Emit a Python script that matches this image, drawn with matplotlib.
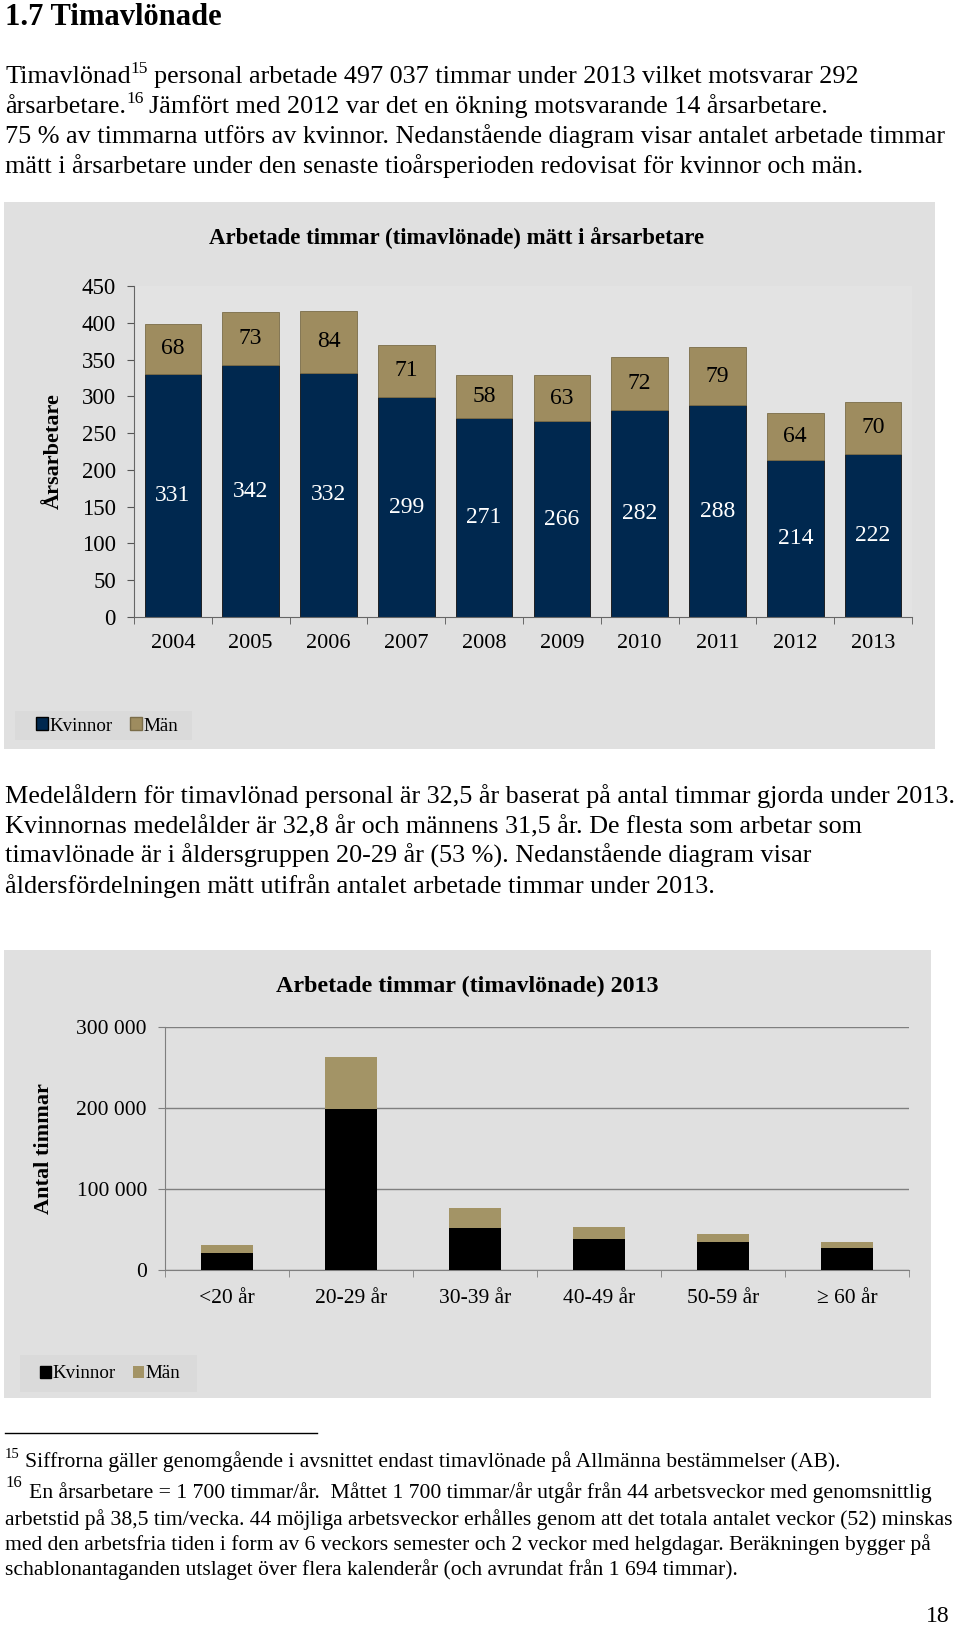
import matplotlib
matplotlib.use("Agg")
import matplotlib.pyplot as plt
from matplotlib.patches import Rectangle, Patch
import numpy as np

plt.rcParams['font.family'] = ['Liberation Serif', 'DejaVu Serif']

W, H = 960, 1628

# data: chart 1 (årsarbetare per year)
years = ["2004", "2005", "2006", "2007", "2008", "2009", "2010", "2011", "2012", "2013"]
kvinnor_ar = [331, 342, 332, 299, 271, 266, 282, 288, 214, 222]
man_ar = [68, 73, 84, 71, 58, 63, 72, 79, 64, 70]

# data: chart 2 (hours per age group 2013)
ages = ["<20 år", "20-29 år", "30-39 år", "40-49 år", "50-59 år", "≥ 60 år"]
kvinnor_tim = [21000, 199000, 52000, 38000, 34500, 27500]
man_tim = [10000, 64000, 25000, 15500, 9500, 7000]

NAVY = "#00284f"
TAN = "#9e8c5f"
TAN2 = "#a39466"
PANEL = "#e0e0e0"
LEGBG = "#dadada"


def fx(x):
    return x / W


def fy(y):
    return 1 - y / H


fig = plt.figure(figsize=(W / 100, H / 100), dpi=100)
fig.patch.set_facecolor("white")
renderer = fig.canvas.get_renderer()


def line_with_sup(x, y, parts, fs, sfs, rise, gap=0):
    # parts: list of (text, is_superscript); x, y in pixels from top-left
    for txt, sup in parts:
        t = fig.text(fx(x), fy(y - rise if sup else y), txt,
                     fontsize=sfs if sup else fs, va="baseline")
        bb = t.get_window_extent(renderer)
        x = bb.x1 + (gap if sup else 0)


# heading and paragraphs
fig.text(fx(5), fy(25), "1.7 Timavlönade", fontsize=22, fontweight="bold", va="baseline")

BODY = 18.8
line_with_sup(5, 83, [("Timavlönad", False), ("15", True),
                      ("personal arbetade 497 037 timmar under 2013 vilket motsvarar 292", False)],
              BODY, 12.5, 10, gap=6)
line_with_sup(5, 113, [("årsarbetare.", False), ("16", True),
                       ("Jämfört med 2012 var det en ökning motsvarande 14 årsarbetare.", False)],
              BODY, 12.5, 10, gap=6)
para1_rest = [
    "75 % av timmarna utförs av kvinnor. Nedanstående diagram visar antalet arbetade timmar",
    "mätt i årsarbetare under den senaste tioårsperioden redovisat för kvinnor och män.",
]
for i, line in enumerate(para1_rest):
    fig.text(fx(5), fy(143 + 30 * i), line, fontsize=BODY, va="baseline")

para2 = [
    "Medelåldern för timavlönad personal är 32,5 år baserat på antal timmar gjorda under 2013.",
    "Kvinnornas medelålder är 32,8 år och männens 31,5 år. De flesta som arbetar som",
    "timavlönade är i åldersgruppen 20-29 år (53 %). Nedanstående diagram visar",
    "åldersfördelningen mätt utifrån antalet arbetade timmar under 2013.",
]
for i, line in enumerate(para2):
    fig.text(fx(5), fy(803 + 30 * i), line, fontsize=BODY, va="baseline")

# ---------------- chart 1 ----------------
fig.patches.append(Rectangle((fx(4), fy(749)), fx(935) - fx(4), fy(202) - fy(749),
                             transform=fig.transFigure, facecolor=PANEL, edgecolor="none", zorder=-2))
fig.patches.append(Rectangle((fx(15), fy(740)), fx(192) - fx(15), fy(711) - fy(740),
                             transform=fig.transFigure, facecolor=LEGBG, edgecolor="none", zorder=-1))
fig.text(fx(457), fy(238), "Arbetade timmar (timavlönade) mätt i årsarbetare",
         fontsize=16.5, fontweight="bold", ha="center", va="center")

ax1 = fig.add_axes([fx(134), fy(617), fx(912) - fx(134), fy(286) - fy(617)])
ax1.set_facecolor("#e3e3e3")
x = np.arange(len(years))
kv = np.array(kvinnor_ar)
mn = np.array(man_ar)
ax1.bar(x, kv, width=0.73, color=NAVY, edgecolor="#111111", linewidth=0.6)
ax1.bar(x, mn, width=0.73, bottom=kv, color=TAN, edgecolor="#7a6c48", linewidth=0.6)
for xi, k, m in zip(x, kv, mn):
    ax1.text(xi, k / 2, str(k), color="white", ha="center", va="center", fontsize=17)
    ax1.text(xi, k + m / 2, str(m), color="black", ha="center", va="center", fontsize=17)
ax1.set_xlim(-0.5, len(years) - 0.5)
ax1.set_ylim(0, 450)
ax1.set_yticks(range(0, 451, 50))
ax1.set_xticks(x)
ax1.set_xticklabels(years)
ax1.set_xticks(np.arange(-0.5, len(years), 1), minor=True)
ax1.tick_params(axis="x", which="major", length=0, pad=12, labelsize=16)
ax1.tick_params(axis="x", which="minor", length=5, color="#555555", direction="out")
ax1.tick_params(axis="y", length=5, color="#555555", pad=8, labelsize=16.5)
for s in ["top", "right"]:
    ax1.spines[s].set_visible(False)
ax1.spines["left"].set_color("#666666")
ax1.spines["bottom"].set_color("#666666")
ax1.set_ylabel("Årsarbetare", fontsize=16, fontweight="bold", labelpad=13)

fig.legend(handles=[Patch(facecolor=NAVY, edgecolor="black", label="Kvinnor"),
                    Patch(facecolor=TAN, edgecolor="#7a6c48", label="Män")],
           loc="center left", bbox_to_anchor=(fx(26), fy(726)), ncol=2, frameon=False,
           fontsize=13.7, handlelength=0.65, handleheight=0.65, handletextpad=0.08,
           columnspacing=0.9, borderpad=0)

# ---------------- chart 2 ----------------
fig.patches.append(Rectangle((fx(4), fy(1398)), fx(931) - fx(4), fy(950) - fy(1398),
                             transform=fig.transFigure, facecolor=PANEL, edgecolor="none", zorder=-2))
fig.patches.append(Rectangle((fx(20), fy(1392)), fx(197) - fx(20), fy(1355) - fy(1392),
                             transform=fig.transFigure, facecolor=LEGBG, edgecolor="none", zorder=-1))
fig.text(fx(467), fy(986), "Arbetade timmar (timavlönade) 2013",
         fontsize=17.3, fontweight="bold", ha="center", va="center")

ax2 = fig.add_axes([fx(165), fy(1270), fx(909) - fx(165), fy(1027) - fy(1270)])
ax2.set_facecolor(PANEL)
x2 = np.arange(len(ages))
kt = np.array(kvinnor_tim)
mt = np.array(man_tim)
ax2.bar(x2, kt, width=0.42, color="black", zorder=3)
ax2.bar(x2, mt, width=0.42, bottom=kt, color=TAN2, zorder=3)
ax2.set_xlim(-0.5, len(ages) - 0.5)
ax2.set_ylim(0, 300000)
ax2.set_yticks([0, 100000, 200000, 300000])
ax2.set_yticklabels(["0", "100 000", "200 000", "300 000"])
ax2.yaxis.grid(True, color="#7f7f7f", linewidth=1.0, zorder=1)
ax2.set_axisbelow(True)
ax2.set_xticks(x2)
ax2.set_xticklabels(ages)
ax2.set_xticks(np.arange(-0.5, len(ages), 1), minor=True)
ax2.tick_params(axis="x", which="major", length=0, pad=14, labelsize=15.5)
ax2.tick_params(axis="x", which="minor", length=5, color="#7f7f7f", direction="out")
ax2.tick_params(axis="y", length=5, color="#7f7f7f", pad=8, labelsize=15.5)
for s in ["top", "right"]:
    ax2.spines[s].set_visible(False)
ax2.spines["left"].set_color("#7f7f7f")
ax2.spines["bottom"].set_color("#7f7f7f")
ax2.set_ylabel("Antal timmar", fontsize=16, fontweight="bold", labelpad=16)

fig.legend(handles=[Patch(facecolor="black", edgecolor="black", label="Kvinnor"),
                    Patch(facecolor=TAN2, edgecolor="none", label="Män")],
           loc="center left", bbox_to_anchor=(fx(30), fy(1374)), ncol=2, frameon=False,
           fontsize=13.7, handlelength=0.6, handleheight=0.6, handletextpad=0.08,
           columnspacing=0.9, borderpad=0)

# ---------------- footnotes ----------------
fig.add_artist(plt.Line2D([fx(5), fx(317)], [fy(1433), fy(1433)], color="black", linewidth=1))
FOOT = 15.6
line_with_sup(5, 1467, [("15", True),
                        ("Siffrorna gäller genomgående i avsnittet endast timavlönade på Allmänna bestämmelser (AB).", False)],
              FOOT, 10.5, 9, gap=5)
line_with_sup(5, 1498, [("16", True),
                        ("En årsarbetare = 1 700 timmar/år.  Måttet 1 700 timmar/år utgår från 44 arbetsveckor med genomsnittlig", False)],
              FOOT, 12, 11, gap=7)
foot_rest = [
    "arbetstid på 38,5 tim/vecka. 44 möjliga arbetsveckor erhålles genom att det totala antalet veckor (52) minskas",
    "med den arbetsfria tiden i form av 6 veckors semester och 2 veckor med helgdagar. Beräkningen bygger på",
    "schablonantaganden utslaget över flera kalenderår (och avrundat från 1 694 timmar).",
]
for i, line in enumerate(foot_rest):
    fig.text(fx(5), fy(1525 + 25 * i), line, fontsize=FOOT, va="baseline")

fig.text(fx(950), fy(1622), "18", fontsize=17, ha="right", va="baseline")

fig.savefig("out.png", dpi=100)
